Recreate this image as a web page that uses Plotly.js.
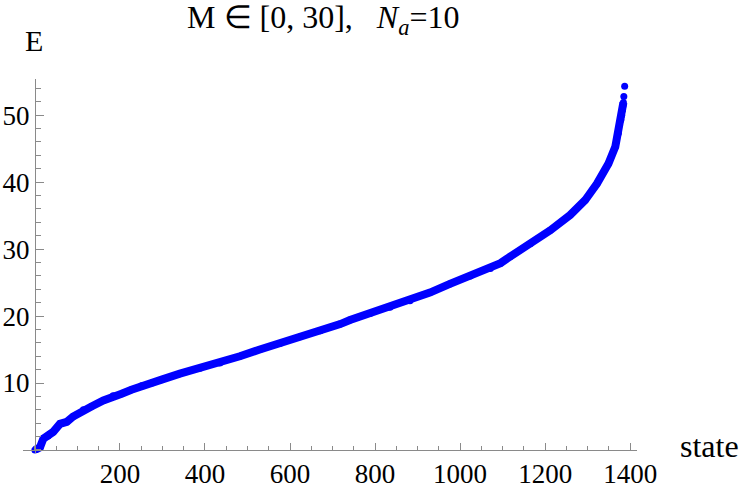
<!DOCTYPE html>
<html>
<head>
<meta charset="utf-8">
<script src="https://cdn.plot.ly/plotly-3.0.1.min.js"></script>
<style>
  html, body { margin: 0; padding: 0; background: #fff; }
  #chart { width: 748px; height: 489px; }
</style>
</head>
<body>
<div id="chart"></div>
<script>
// values (state index -> energy)
let states = [0, 12, 20, 31, 43, 59, 75, 90, 114, 133, 161, 184, 204, 227, 251, 275, 298,
  341, 388, 435, 482, 529, 576, 624, 671, 718, 741, 788, 835, 882, 929, 976, 1024, 1071, 1095,
  1118, 1165, 1212, 1259, 1294, 1322, 1349, 1365, 1372, 1378, 1380, 1382, 1383, 1384, 1385, 1387];
let energies = [0, 0.4, 1.7, 2.1, 2.7, 3.9, 4.2, 5.0, 6.0, 6.5, 7.4, 8.1, 8.4, 9.0, 9.6, 10.0, 10.5,
  11.4, 12.2, 13.0, 14.0, 15.0, 15.9, 16.9, 17.8, 18.8, 19.4, 20.4, 21.3, 22.3, 23.5, 24.8, 26.0, 27.1, 27.9,
  28.9, 30.8, 32.8, 35.1, 37.3, 39.8, 42.8, 45.3, 47.3, 49.3, 50.0, 50.8, 51.4, 51.9, 52.8, 54.3];

let xTicks = [200, 400, 600, 800, 1000, 1200, 1400];
let yTicks = [10, 20, 30, 40, 50];

let blue = 'rgb(0,0,255)';
let axisGray = '#8a8a8a';
let serif = "'Liberation Serif', 'Times New Roman', Times, serif";
let sp = '\u00a0';

let xRange = [-28, 1416];
let yRange = [-0.45, 55.4];

// the last couple of points stand apart as single dots
let nBand = states.length - 2;

let bandTrace = {
  x: states.slice(0, nBand),
  y: energies.slice(0, nBand),
  type: 'scatter',
  mode: 'lines',
  line: { color: blue, width: 8 },
  hoverinfo: 'skip',
  cliponaxis: false
};

let pointTrace = {
  x: states,
  y: energies,
  type: 'scatter',
  mode: 'markers',
  marker: { color: blue, size: 7 },
  cliponaxis: false
};

let titleText = 'M \u2208 [0, 30],' + sp.repeat(3) + '<i>N</i><sub><i>a</i></sub>=10';

let layout = {
  width: 748,
  height: 489,
  margin: { l: 23, r: 111, t: 79, b: 36, pad: 0 },
  paper_bgcolor: '#fff',
  plot_bgcolor: '#fff',
  showlegend: false,
  font: { family: serif, size: 27, color: '#000' },
  title: {
    text: titleText,
    font: { family: serif, size: 32, color: '#000' },
    xref: 'paper', x: 0.489, xanchor: 'center',
    yref: 'container', y: 0.966, yanchor: 'middle'
  },
  xaxis: {
    range: xRange,
    anchor: 'free',
    position: (0 - yRange[0]) / (yRange[1] - yRange[0]),
    showgrid: false,
    zeroline: false,
    showline: true,
    linecolor: axisGray,
    linewidth: 1,
    tickmode: 'array',
    tickvals: xTicks,
    ticks: 'inside',
    ticklen: 7,
    tickcolor: axisGray,
    tickfont: { family: serif, size: 27, color: '#000' },
    ticklabelstandoff: 0,
    minor: { tick0: 0, dtick: 50, ticks: 'inside', ticklen: 4, tickcolor: axisGray }
  },
  yaxis: {
    range: yRange,
    anchor: 'free',
    position: (0 - xRange[0]) / (xRange[1] - xRange[0]),
    showgrid: false,
    zeroline: false,
    showline: true,
    linecolor: axisGray,
    linewidth: 1,
    tickmode: 'array',
    tickvals: yTicks,
    ticks: 'inside',
    ticklen: 8,
    tickcolor: axisGray,
    tickfont: { family: serif, size: 27, color: '#000' },
    minor: { tick0: 0, dtick: 2, ticks: 'inside', ticklen: 5, tickcolor: axisGray }
  },
  annotations: [
    {
      text: 'E', showarrow: false,
      xref: 'paper', yref: 'paper', x: 0.0179, y: 1.104,
      xanchor: 'center', yanchor: 'middle',
      font: { family: serif, size: 30, color: '#000' }
    },
    {
      text: 'state', showarrow: false,
      xref: 'paper', yref: 'paper', x: 1.0668, y: 0.018,
      xanchor: 'left', yanchor: 'middle',
      font: { family: serif, size: 32, color: '#000' }
    }
  ]
};

Plotly.newPlot('chart', [bandTrace, pointTrace], layout, { displayModeBar: false, staticPlot: true });
</script>
</body>
</html>
